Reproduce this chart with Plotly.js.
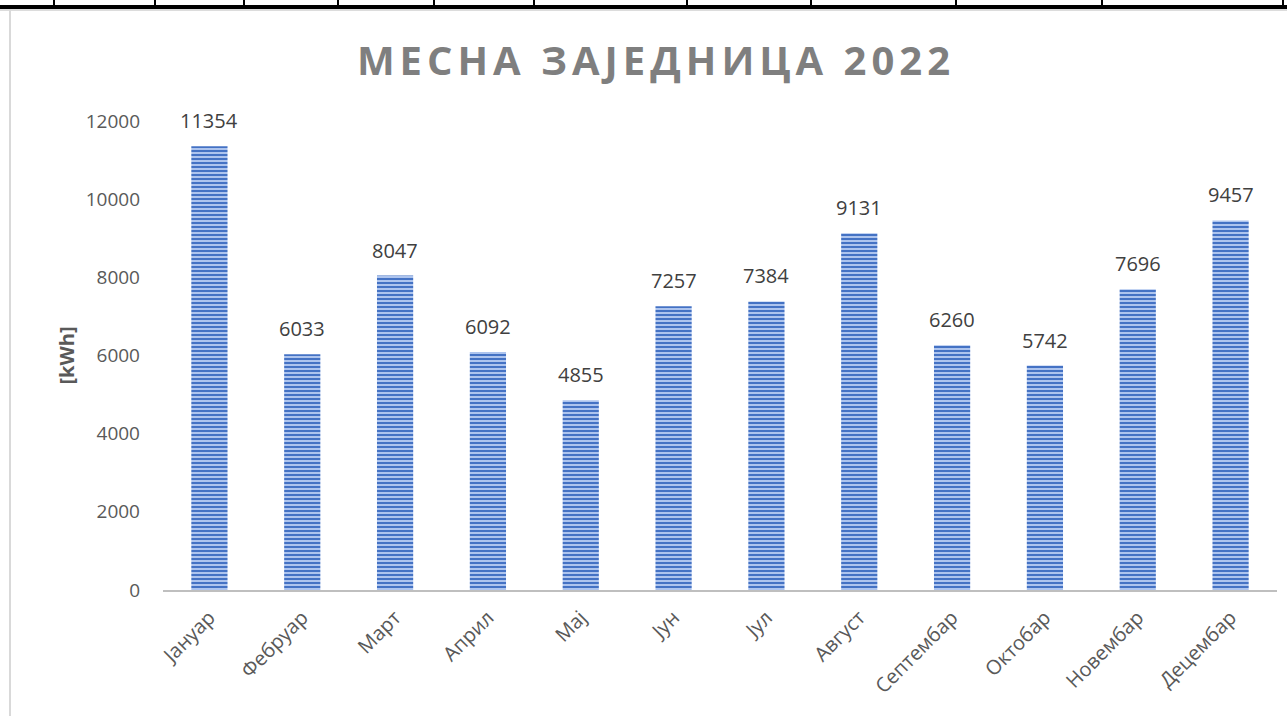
<!DOCTYPE html>
<html>
<head>
<meta charset="utf-8">
<script src="https://cdn.plot.ly/plotly-3.0.1.min.js"></script>
<style>
  html, body { margin: 0; padding: 0; background: #fff; }
  #wrap { position: relative; width: 1287px; height: 716px; overflow: hidden; }
  #chart { position: absolute; left: 0; top: 0; width: 1287px; height: 716px; }
  .deco { position: absolute; pointer-events: none; }
  #chart .gtitle { letter-spacing: 5px; }
</style>
</head>
<body>
<div id="wrap">
  <div id="chart"></div>
</div>
<script>
// ---- data ----
const months = ['Јануар','Фебруар','Март','Април','Мај','Јун','Јул','Август','Септембар','Октобар','Новембар','Децембар'];
const energy = [11354, 6033, 8047, 6092, 4855, 7257, 7384, 9131, 6260, 5742, 7696, 9457];
const yTicks = [0, 2000, 4000, 6000, 8000, 10000, 12000];
const chartTitle = 'МЕСНА ЗАЈЕДНИЦА 2022';
const yTitle = '[kWh]';

// ---- page decoration (table border above the chart, left frame line) ----
const wrap = document.getElementById('wrap');
function addDiv(css) {
  const d = document.createElement('div');
  d.className = 'deco';
  Object.assign(d.style, css);
  wrap.appendChild(d);
}
addDiv({left: '0px', top: '5px', width: '1287px', height: '4px', background: '#000', zIndex: 5});
addDiv({left: '0px', top: '9px', width: '1287px', height: '2px', background: '#dcdcdc', zIndex: 5});
[54, 155, 244, 338, 434, 534, 687, 811, 956, 1102, 1283].forEach(x => {
  addDiv({left: (x - 1) + 'px', top: '0px', width: '2px', height: '6px', background: '#000', zIndex: 5});
});
addDiv({left: '9px', top: '9px', width: '2px', height: '707px', background: '#d9d9d9', zIndex: 5});

// ---- chart ----
const trace = {
  type: 'bar',
  x: months,
  y: energy,
  marker: {
    color: '#4472C4',
    line: {width: 0},
    pattern: {shape: '-', fgcolor: '#4472C4', bgcolor: '#adc4ee', size: 4, solidity: 0.5, fillmode: 'replace'}
  },
  hoverinfo: 'x+y'
};

const labels = months.map((m, i) => ({
  x: m, y: energy[i], xref: 'x', yref: 'y',
  text: String(energy[i]), showarrow: false,
  yanchor: 'bottom', yshift: 10,
  font: {family: 'Open Sans, sans-serif', size: 20, color: '#404040'}
}));

labels.push({
  xref: 'paper', yref: 'paper', x: -0.087, y: 0.5,
  text: '<b>' + yTitle + '</b>', showarrow: false, textangle: -90,
  xanchor: 'center', yanchor: 'middle',
  font: {family: 'Open Sans, sans-serif', size: 20, color: '#595959'}
});

const layout = {
  width: 1287, height: 716,
  margin: {l: 163, r: 10, t: 121, b: 126, pad: 0},
  paper_bgcolor: 'rgba(0,0,0,0)',
  plot_bgcolor: 'rgba(0,0,0,0)',
  showlegend: false,
  bargap: 0.61,
  title: {
    text: '<b>' + chartTitle + '</b>',
    xref: 'container', yref: 'container',
    x: 0.5097, y: 1 - 61 / 716, xanchor: 'center', yanchor: 'middle',
    font: {family: 'Open Sans, sans-serif', size: 40, color: '#7f7f7f'}
  },
  xaxis: {
    type: 'category',
    tickangle: -45,
    tickfont: {family: 'Open Sans, sans-serif', size: 20, color: '#595959'},
    showline: true, linecolor: '#bfbfbf', linewidth: 2,
    ticks: '', showgrid: false, zeroline: false,
    ticklabelstandoff: 6
  },
  yaxis: {
    range: [0, 12000],
    tickvals: yTicks,
    ticktext: yTicks.map(String),
    tickfont: {family: 'Open Sans, sans-serif', size: 19, color: '#595959'},
    showgrid: false, zeroline: false, showline: false, ticks: '',
    ticklabelstandoff: 22
  },
  annotations: labels
};

Plotly.newPlot('chart', [trace], layout, {displayModeBar: false, staticPlot: true});
</script>
</body>
</html>
